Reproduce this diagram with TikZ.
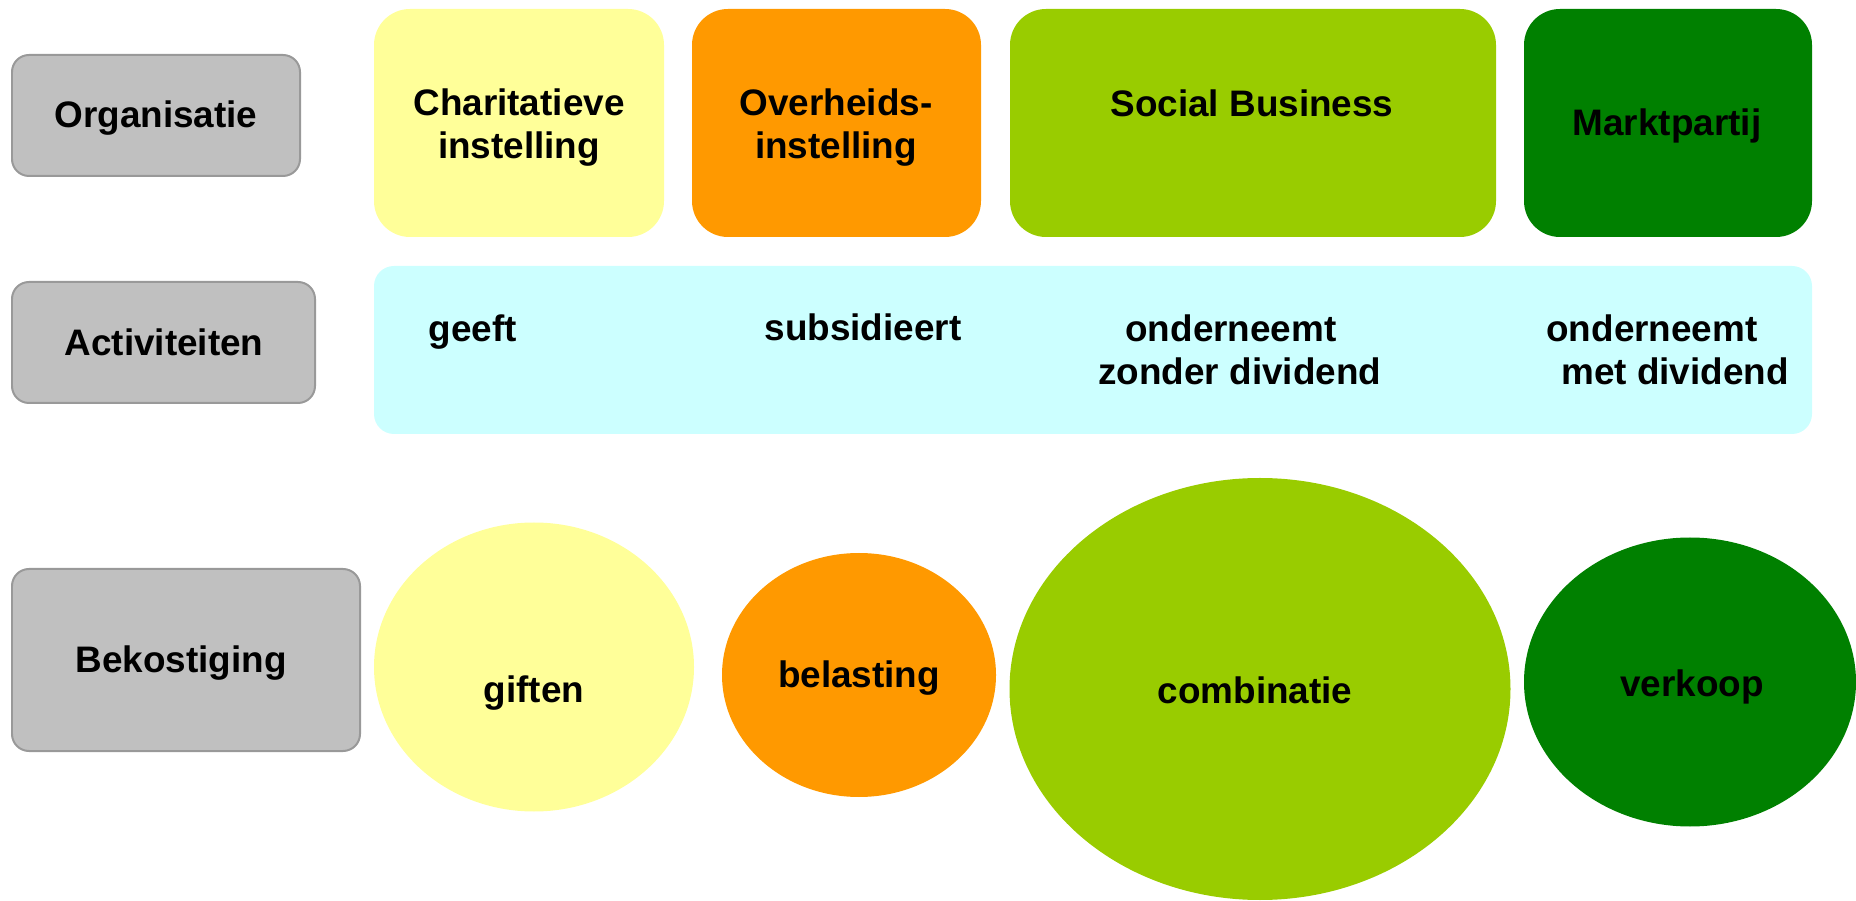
\documentclass[tikz,border=0pt]{standalone}
\usepackage{fontspec}
\setmainfont{Liberation Sans}
\usepackage{tikz}
\usetikzlibrary{shapes.geometric}
\definecolor{labelGray}{HTML}{C0C0C0}
\definecolor{labelEdge}{HTML}{999999}
\definecolor{charityYellow}{HTML}{FFFF99}
\definecolor{govOrange}{HTML}{FF9900}
\definecolor{socialGreen}{HTML}{99CC00}
\definecolor{marketGreen}{HTML}{008000}
\definecolor{activityCyan}{HTML}{CCFFFF}
\tikzstyle{pixels} = [x = .02cm, y = -.02cm]
\tikzstyle{labelStyle} = [rectangle, fill=labelGray, draw=labelEdge, line width=.04cm, rounded corners = .34cm, inner sep=0pt]
\tikzstyle{tileStyle} = [rectangle, draw=none, rounded corners = .72cm, inner sep=0pt]
\tikzstyle{barStyle} = [rectangle, fill=activityCyan, draw=none, rounded corners = .4cm, inner sep=0pt]
\tikzstyle{fundStyle} = [ellipse, draw=none, inner sep=0pt]
\tikzstyle{boxText} = [anchor=base, align=center, inner sep=0pt, font=\fontsize{21}{25}\selectfont\bfseries]
\tikzstyle{leftText} = [boxText, anchor=base west, align=left]
\newcommand{\px}{0.02cm}
% box from its corners (x1,y1) to (x2,y2), in pixels
\newcommand{\cornerBox}[6]{\node [#2, minimum width={(#5-#3)*\px}, minimum height={(#6-#4)*\px}] (#1) at ({(#3+#5)/2},{(#4+#6)/2}) {};}
% ellipse from its centre and full size, in pixels
\newcommand{\fundEllipse}[6]{\node [fundStyle, fill=#2, minimum width={#5*\px}, minimum height={#6*\px}] (#1) at (#3,#4) {};}
% text placed on the baseline of its last line
\newcommand{\boxLabel}[4]{\node [boxText] (#1) at (#2,#3) {#4};}

\begin{document}
\begin{tikzpicture}[pixels]
  \useasboundingbox (0,0) rectangle (1856,901);
  % row labels
  \cornerBox{orgBox}{labelStyle}{12}{55}{300}{176}
  \cornerBox{actBox}{labelStyle}{12}{282}{315}{403}
  \cornerBox{fundBox}{labelStyle}{12}{569}{360}{751}
  \boxLabel{orgLabel}{156}{128}{Organisatie}
  \boxLabel{actLabel}{164}{356}{Activiteiten}
  \boxLabel{fundLabel}{181}{673}{Bekostiging}
  % organisations
  \cornerBox{charityBox}{tileStyle, fill=charityYellow}{374}{9}{664}{237}
  \cornerBox{govBox}{tileStyle, fill=govOrange}{692}{9}{981}{237}
  \cornerBox{socialBox}{tileStyle, fill=socialGreen}{1010}{9}{1496}{237}
  \cornerBox{marketBox}{tileStyle, fill=marketGreen}{1524}{9}{1812}{237}
  \boxLabel{charityText}{519}{159}{Charitatieve\\instelling}
  \boxLabel{govText}{836}{159}{Overheids-\\instelling}
  \boxLabel{socialText}{1252}{117}{Social Business}
  \boxLabel{marketText}{1667}{136}{Marktpartij}
  % activities
  \cornerBox{actBar}{barStyle}{374}{266}{1812}{434}
  \boxLabel{giveText}{473}{342}{geeft}
  \boxLabel{subsidyText}{863}{341}{subsidieert}
  \node [leftText] (socialAct) at (1098,385) {\hspace*{15.4pt}onderneemt\\zonder dividend};
  \node [leftText] (marketAct) at (1546,385) {onderneemt\\\hspace*{8.5pt}met dividend};
  % funding
  \fundEllipse{giftOval}{charityYellow}{534}{667}{320}{289}
  \fundEllipse{taxOval}{govOrange}{859}{675}{274}{244}
  \fundEllipse{comboOval}{socialGreen}{1260}{689}{501}{422}
  \fundEllipse{saleOval}{marketGreen}{1690}{682}{332}{289}
  \boxLabel{giftText}{534}{703}{giften}
  \boxLabel{taxText}{859}{687}{belasting}
  \boxLabel{comboText}{1255}{704}{combinatie}
  \boxLabel{saleText}{1692}{697}{verkoop}
\end{tikzpicture}
\end{document}
